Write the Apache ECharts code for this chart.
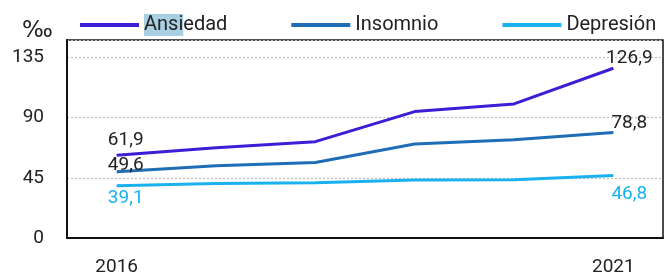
<!DOCTYPE html>
<html><head><meta charset="utf-8">
<script src="https://cdn.jsdelivr.net/npm/echarts@6/dist/echarts.min.js"></script>
<style>html,body{margin:0;padding:0;background:#fff}#c{width:670px;height:278px}</style>
</head><body><div id="c"></div>
<script>
const years = ['2016','2017','2018','2019','2020','2021'];
const yearLabels = ['2016','','','','','2021'];
const ansiedad = [61.9, 67.5, 72.0, 94.5, 100.2, 126.9];
const insomnio = [49.6, 54.0, 56.5, 70.2, 73.5, 78.8];
const depresion = [39.1, 40.8, 41.3, 43.3, 43.5, 46.8];
const yTicks = [0, 45, 90, 135];

const FONT = 'Roboto';
const NUM = 19;
function mk(values, first, last) {
  return values.map((v, i) => {
    if (i === 0) return {value: v, label: Object.assign({show: true}, first)};
    if (i === values.length - 1) return {value: v, label: Object.assign({show: true}, last)};
    return v;
  });
}
const fmt = p => String(p.value).replace('.', ',');
const chart = echarts.init(document.getElementById('c'));
chart.setOption({
  animation: false,
  textStyle: {fontFamily: FONT},
  title: {text: '‰', left: 17, top: 15, textStyle: {fontFamily: 'DejaVu Sans', fontSize: 23, fontWeight: 'normal', color: '#222'}},
  legend: {
    left: 75, top: 9, itemWidth: 59, itemHeight: 4, itemGap: 64, icon: 'rect',
    textStyle: {fontFamily: FONT, fontSize: 20, color: '#222',
      rich: {hl: {backgroundColor: '#a9cfe2', fontSize: 20, color: '#222', fontFamily: FONT, padding: [1, 0, 1, 0]}}},
    formatter: n => n === 'Ansiedad' ? '{hl|Ansi}edad' : n,
    data: ['Ansiedad', 'Insomnio', 'Depresión']
  },
  grid: {left: 67, right: 7, top: 40, bottom: 40, show: true, borderColor: '#111', borderWidth: 1.5},
  xAxis: {
    type: 'category', data: years, boundaryGap: true,
    axisLine: {lineStyle: {color: '#111', width: 2}},
    axisTick: {show: false},
    axisLabel: {formatter: (v, i) => yearLabels[i], interval: 0, margin: 20, fontSize: NUM, color: '#222', fontFamily: FONT}
  },
  yAxis: {
    type: 'value', min: 0, max: 148, interval: 45,
    axisLine: {show: true, lineStyle: {color: '#111', width: 2}},
    axisTick: {show: false},
    axisLabel: {margin: 23, fontSize: NUM, color: '#222', fontFamily: FONT, showMaxLabel: false,
      formatter: v => yTicks.includes(v) ? String(v) : ''},
    splitLine: {lineStyle: {color: '#bdbdbd', type: [2, 2], width: 1.2}}
  },
  series: [
    {name: 'Ansiedad', type: 'line', showSymbol: true, symbol: 'circle', symbolSize: 0, color: '#3a1fd6',
      lineStyle: {width: 3, color: '#3a1fd6'},
      label: {fontSize: NUM, color: '#222', fontFamily: FONT, formatter: fmt},
      data: mk(ansiedad, {position: 'top', offset: [9, 0]}, {position: 'top', offset: [16, 5]})},
    {name: 'Insomnio', type: 'line', showSymbol: true, symbol: 'circle', symbolSize: 0, color: '#1f6db5',
      lineStyle: {width: 3, color: '#1f6db5'},
      label: {fontSize: NUM, color: '#222', fontFamily: FONT, formatter: fmt},
      data: mk(insomnio, {position: 'top', offset: [9, 8]}, {position: 'top', offset: [16, 5]})},
    {name: 'Depresión', type: 'line', showSymbol: true, symbol: 'circle', symbolSize: 0, color: '#19b2ee',
      lineStyle: {width: 3, color: '#19b2ee'},
      label: {fontSize: NUM, color: '#19b2ee', fontFamily: FONT, formatter: fmt},
      data: mk(depresion, {position: 'bottom', offset: [9, -2]}, {position: 'bottom', offset: [16, 4]})}
  ]
});
</script></body></html>
